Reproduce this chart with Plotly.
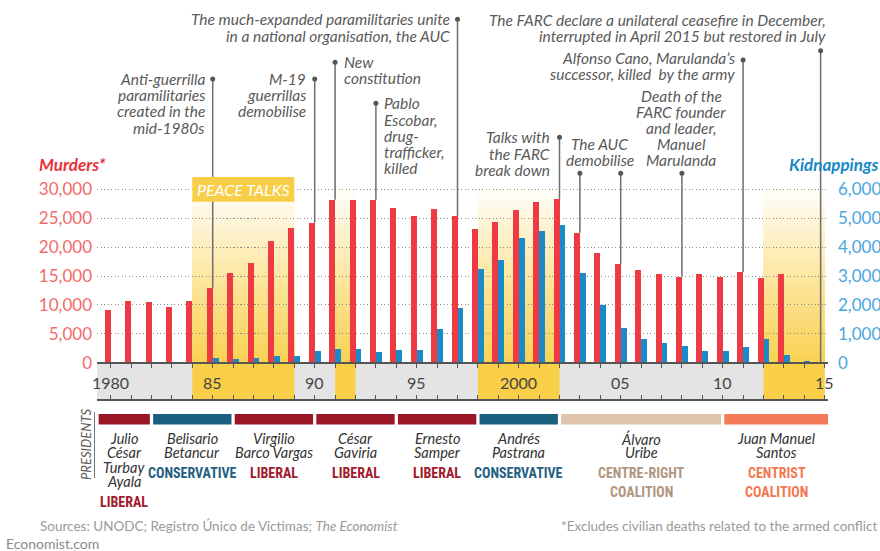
import plotly.graph_objects as go

# ---------------- data ----------------
murder_years = list(range(1980, 2014))
murders = [9100, 10700, 10500, 9700, 10700,
           12900, 15600, 17300, 21100, 23300,
           24200, 28200, 28200, 28100, 26800,
           25400, 26600, 25300, 23100, 24300,
           26500, 27800, 28300, 22500, 18900,
           17000, 16100, 15300, 14900, 15400,
           14900, 15700, 14600, 15300]

kidnap_years = list(range(1985, 2015))
kidnappings = [160, 140, 160, 230, 230,
               390, 460, 480, 370, 430,
               430, 1170, 1890, 3250, 3550,
               4310, 4550, 4780, 3100, 2000,
               1210, 830, 690, 590, 400,
               400, 540, 820, 280, 60]

murder_ticks = [0, 5000, 10000, 15000, 20000, 25000, 30000]
murder_tick_text = ["0", "5,000", "10,000", "15,000", "20,000", "25,000", "30,000"]
kidnap_ticks = [0, 1000, 2000, 3000, 4000, 5000, 6000]
kidnap_tick_text = ["0", "1,000", "2,000", "3,000", "4,000", "5,000", "6,000"]
year_ticks = [1980, 1985, 1990, 1995, 2000, 2005, 2010, 2015]
year_tick_text = ["1980", "85", "90", "95", "2000", "05", "10", "15"]

peace_start = [1984, 1991, 1998, 2012]
peace_end = [1989, 1992, 2002, 2015]

event_texts = [
    ["Anti-guerrilla", "paramilitaries", "created in the", "mid-1980s"],
    ["M-19", "guerrillas", "demobilise"],
    ["New", "constitution"],
    ["Pablo", "Escobar,", "drug-", "trafficker,", "killed"],
    ["The much-expanded paramilitaries unite", "in a national organisation, the AUC"],
    ["Talks with", "the FARC", "break down"],
    ["The AUC", "demobilise"],
    ["Death of the", "FARC founder", "and leader,", "Manuel", "Marulanda"],
    ["Alfonso Cano, Marulanda\u2019s", "successor, killed  by the army"],
    ["The FARC declare a unilateral ceasefire in December,",
     "interrupted in April 2015 but restored in July"],
]
event_years = [[1985], [1990], [1991], [1993], [1997], [2002], [2003, 2005],
               [2008], [2011], [2014.8]]

president_names = [["Julio", "César", "Turbay", "Ayala"], ["Belisario", "Betancur"],
                   ["Virgilio", "Barco Vargas"], ["César", "Gaviria"],
                   ["Ernesto", "Samper"], ["Andrés", "Pastrana"],
                   ["Álvaro", "Uribe"], ["Juan Manuel", "Santos"]]
president_start = [1978, 1982, 1986, 1990, 1994, 1998, 2002, 2010]
president_end = [1982, 1986, 1990, 1994, 1998, 2002, 2010, 2018]
president_party = [["LIBERAL"], ["CONSERVATIVE"], ["LIBERAL"], ["LIBERAL"], ["LIBERAL"],
                   ["CONSERVATIVE"], ["CENTRE-RIGHT", "COALITION"], ["CENTRIST", "COALITION"]]

# ---------------- layout / style ----------------
W, H = 880, 551
PL, PR, PT, PB = 97, 828, 0, 399
YEAR0_PX, PX_PER_YEAR = 110.7, 20.4
Y0_PX, Y30_PX = 362.7, 189.3
PPU = (Y0_PX - Y30_PX) / 30000.0
RATIO = 5.0

xmin = 1980 + (PL - YEAR0_PX) / PX_PER_YEAR
xmax = 1980 + (PR - YEAR0_PX) / PX_PER_YEAR
ymax = (Y0_PX - PT) / PPU
ymin = (Y0_PX - PB) / PPU

FONT = "Lato"
COND = "Roboto Condensed"
RED = "#ee3b43"
BLUE = "#1a8bc8"
YELLOW = (249, 207, 72)
GREY_TXT = "#5a5a5a"
LINE_C = "#6e6e6e"

party_fill = {"LIBERAL": "#9b1626", "CONSERVATIVE": "#1b5f7e",
              "CENTRE-RIGHT": "#dec5ab", "CENTRIST": "#f47b57"}
party_text = {"LIBERAL": "#a01b2b", "CONSERVATIVE": "#1f6082",
              "CENTRE-RIGHT": "#b09580", "CENTRIST": "#f27852"}

# label positions (pixel): (x, first line y, anchor)
label_pos = [(207, 79, "right"), (308, 79, "right"), (342, 62.3, "left"),
             (382, 103.3, "left"), (452, 19.3, "right"), (552, 137.3, "right"),
             (599.5, 144, "center"), (681, 95.7, "center"), (737, 58.3, "right"),
             (827.5, 20, "right")]
dot_px = [[79], [79], [62.3], [103.3], [19.3], [137.3], [173.3, 173.3], [173.3], [60], [50.7]]


def px_x(px):
    return (px - PL) / (PR - PL)


def px_y(py):
    return (PB - py) / (PB - PT)


def val_y(py):
    return (Y0_PX - py) / PPU


fig = go.Figure()
shapes = []
annotations = []

# grey band under axis
shapes.append(dict(type="rect", xref="x", yref="paper", x0=xmin, x1=2015,
                   y0=0, y1=px_y(Y0_PX), fillcolor="#e4e4e4", line_width=0, layer="below"))

# peace talk periods: gradient above axis + solid below axis
N = 40
for s0, s1 in zip(peace_start, peace_end):
    top = 30000
    for i in range(N):
        h = top * (1 - i / N)
        rel = 1 - (i + 0.5) / N
        s = max(0.05, (1 - rel) ** 0.9) * 0.95
        col = tuple(int(round(255 * (1 - s) + c * s)) for c in YELLOW)
        shapes.append(dict(type="rect", xref="x", yref="y", x0=s0, x1=s1, y0=0, y1=h,
                           fillcolor="rgb(%d,%d,%d)" % col, line_width=0, layer="below"))
    shapes.append(dict(type="rect", xref="x", yref="paper", x0=s0, x1=s1,
                       y0=0, y1=px_y(Y0_PX), fillcolor="rgb(%d,%d,%d)" % YELLOW,
                       line_width=0, layer="below"))

# event pointer lines
murder_lookup = dict(zip(murder_years, murders))
dot_x, dot_y = [], []
for yrs, dps in zip(event_years, dot_px):
    for yr, dp in zip(yrs, dps):
        bottom = murder_lookup.get(yr, 0)
        shapes.append(dict(type="line", xref="x", yref="y", x0=yr, x1=yr,
                           y0=bottom, y1=val_y(dp), line=dict(color=LINE_C, width=1.5),
                           layer="between"))
        dot_x.append(yr)
        dot_y.append(val_y(dp))

# peace talks box
shapes.append(dict(type="rect", xref="x", yref="paper", x0=peace_start[0], x1=peace_end[0],
                   y0=px_y(201.7), y1=px_y(177), fillcolor="#f8cd48", line_width=0,
                   layer="above"))
annotations.append(dict(x=(peace_start[0] + peace_end[0]) / 2, xref="x", y=px_y(189.3),
                        yref="paper", text="<i>PEACE TALKS</i>", showarrow=False,
                        font=dict(family=FONT, size=16, color="white")))


def add_lines(lines, x, y_first, spacing, anchor, size, color, italic=True,
              weight="normal", family=FONT, xref="paper"):
    for i, ln in enumerate(lines):
        txt = "<i>%s</i>" % ln if italic else ln
        annotations.append(dict(x=x, xref=xref, y=px_y(y_first + i * spacing), yref="paper",
                                text=txt, showarrow=False, xanchor=anchor, yanchor="middle",
                                font=dict(family=family, size=size, color=color,
                                          weight=weight)))


for lines, (lx, ly, anc) in zip(event_texts, label_pos):
    add_lines(lines, px_x(lx), ly, 16.2, anc, 15.5, GREY_TXT)

# bars
fig.add_trace(go.Bar(x=murder_years, y=murders, width=0.29, offset=-0.29,
                     marker=dict(color=RED, line_width=0), yaxis="y", name="Murders"))
fig.add_trace(go.Bar(x=kidnap_years, y=kidnappings, width=0.29, offset=0.0,
                     marker=dict(color=BLUE, line_width=0), yaxis="y2", name="Kidnappings"))
fig.add_trace(go.Scatter(x=dot_x, y=dot_y, mode="markers", xaxis="x2", yaxis="y",
                         marker=dict(size=5, color="#555555"), hoverinfo="skip"))

# year tick labels
for v, t in zip(year_ticks, year_tick_text):
    annotations.append(dict(x=v, xref="x", y=px_y(382.5), yref="paper", text=t,
                            showarrow=False, xanchor="center", yanchor="middle",
                            font=dict(family=FONT, size=16, color="#444444")))

# axis titles
annotations.append(dict(x=px_x(37), xref="paper", y=px_y(164.5), yref="paper",
                        text="<i>Murders*</i>", showarrow=False, xanchor="left",
                        yanchor="middle",
                        font=dict(family=FONT, size=17, color="#e9323b", weight="bold")))
annotations.append(dict(x=px_x(881), xref="paper", y=px_y(164.5), yref="paper",
                        text="<i>Kidnappings</i>", showarrow=False, xanchor="right",
                        yanchor="middle",
                        font=dict(family=FONT, size=17, color="#1788c6", weight="bold")))

# presidents
annotations.append(dict(x=px_x(86), xref="paper", y=px_y(445), yref="paper",
                        text="<i>PRESIDENTS</i>", showarrow=False, textangle=-90,
                        xanchor="center", yanchor="middle",
                        font=dict(family=FONT, size=13, color=GREY_TXT)))
shapes.append(dict(type="line", xref="paper", yref="paper", x0=px_x(94.5), x1=px_x(94.5),
                   y0=px_y(412), y1=px_y(478), line=dict(color="#777777", width=1)))
GAP = 0.08
for names, s0, s1, party in zip(president_names, president_start, president_end,
                                president_party):
    a = max(s0, xmin) + GAP
    b = min(s1, xmax + 0.15) - GAP
    shapes.append(dict(type="rect", xref="x", yref="paper", x0=a, x1=b,
                       y0=px_y(424.5), y1=px_y(414), fillcolor=party_fill[party[0]],
                       line_width=0, layer="above"))
    cx = (a + b) / 2
    add_lines(names, cx, 438.5, 14.4, "center", 14.5, "#333333", xref="x")
    add_lines(party, cx, 438.5 + len(names) * 14.4 + 5.5, 19.6, "center", 14,
              party_text[party[0]], italic=False, weight="bold",
              family=COND, xref="x")

# footer
annotations.append(dict(x=px_x(38), xref="paper", y=px_y(526), yref="paper",
                        text="Sources: UNODC; Registro Único de Víctimas; <i>The Economist</i>",
                        showarrow=False, xanchor="left", yanchor="middle",
                        font=dict(family=FONT, size=13.5, color="#9a9a9a")))
annotations.append(dict(x=px_x(4), xref="paper", y=px_y(543), yref="paper",
                        text="Economist.com", showarrow=False, xanchor="left",
                        yanchor="middle", font=dict(family=FONT, size=14, color="#8a8a8a")))
annotations.append(dict(x=px_x(879), xref="paper", y=px_y(526), yref="paper",
                        text="*Excludes civilian deaths related to the armed conflict",
                        showarrow=False, xanchor="right", yanchor="middle",
                        font=dict(family=FONT, size=13.5, color="#9a9a9a")))

fig.update_layout(
    width=W, height=H,
    margin=dict(l=PL, r=W - PR, t=PT, b=H - PB, pad=0),
    paper_bgcolor="white", plot_bgcolor="rgba(0,0,0,0)",
    showlegend=False, barmode="overlay", bargap=0,
    shapes=shapes, annotations=annotations,
    xaxis=dict(range=[xmin, xmax], anchor="free", position=px_y(Y0_PX),
               showline=True, linecolor="#555555", linewidth=1.5,
               ticks="outside", ticklen=5, tickcolor="#555555", tickwidth=1,
               tick0=1980, dtick=1, showticklabels=False, showgrid=False, zeroline=False,
               fixedrange=True),
    xaxis2=dict(range=[xmin, xmax], overlaying="x", anchor="y", side="bottom",
                showline=True, linecolor="#555555", linewidth=1.5,
                ticks="inside", ticklen=4, tickcolor="#555555", tickwidth=1,
                tick0=1980, dtick=1, showticklabels=False, showgrid=False, zeroline=False),
    yaxis=dict(range=[ymin, ymax], tickvals=murder_ticks, ticktext=murder_tick_text,
               tickfont=dict(family=FONT, size=17, color="#f36a6a"),
               showgrid=True, gridcolor="#8a8a8a", gridwidth=1.2, griddash="1.2px,2.3px",
               zeroline=False, showline=False, ticks="", ticklabelstandoff=4),
    yaxis2=dict(range=[ymin / RATIO, ymax / RATIO], overlaying="y", side="right",
                anchor="x", tickvals=kidnap_ticks, ticktext=kidnap_tick_text,
                tickfont=dict(family=FONT, size=17, color="#4ba6dd"),
                showgrid=False, zeroline=False, showline=False, ticks="",
                ticklabelstandoff=9),
)

fig.write_html("out.html", config={"displayModeBar": False},
               post_script="document.body.style.margin='0px';"
                           "document.body.style.overflow='hidden';")
